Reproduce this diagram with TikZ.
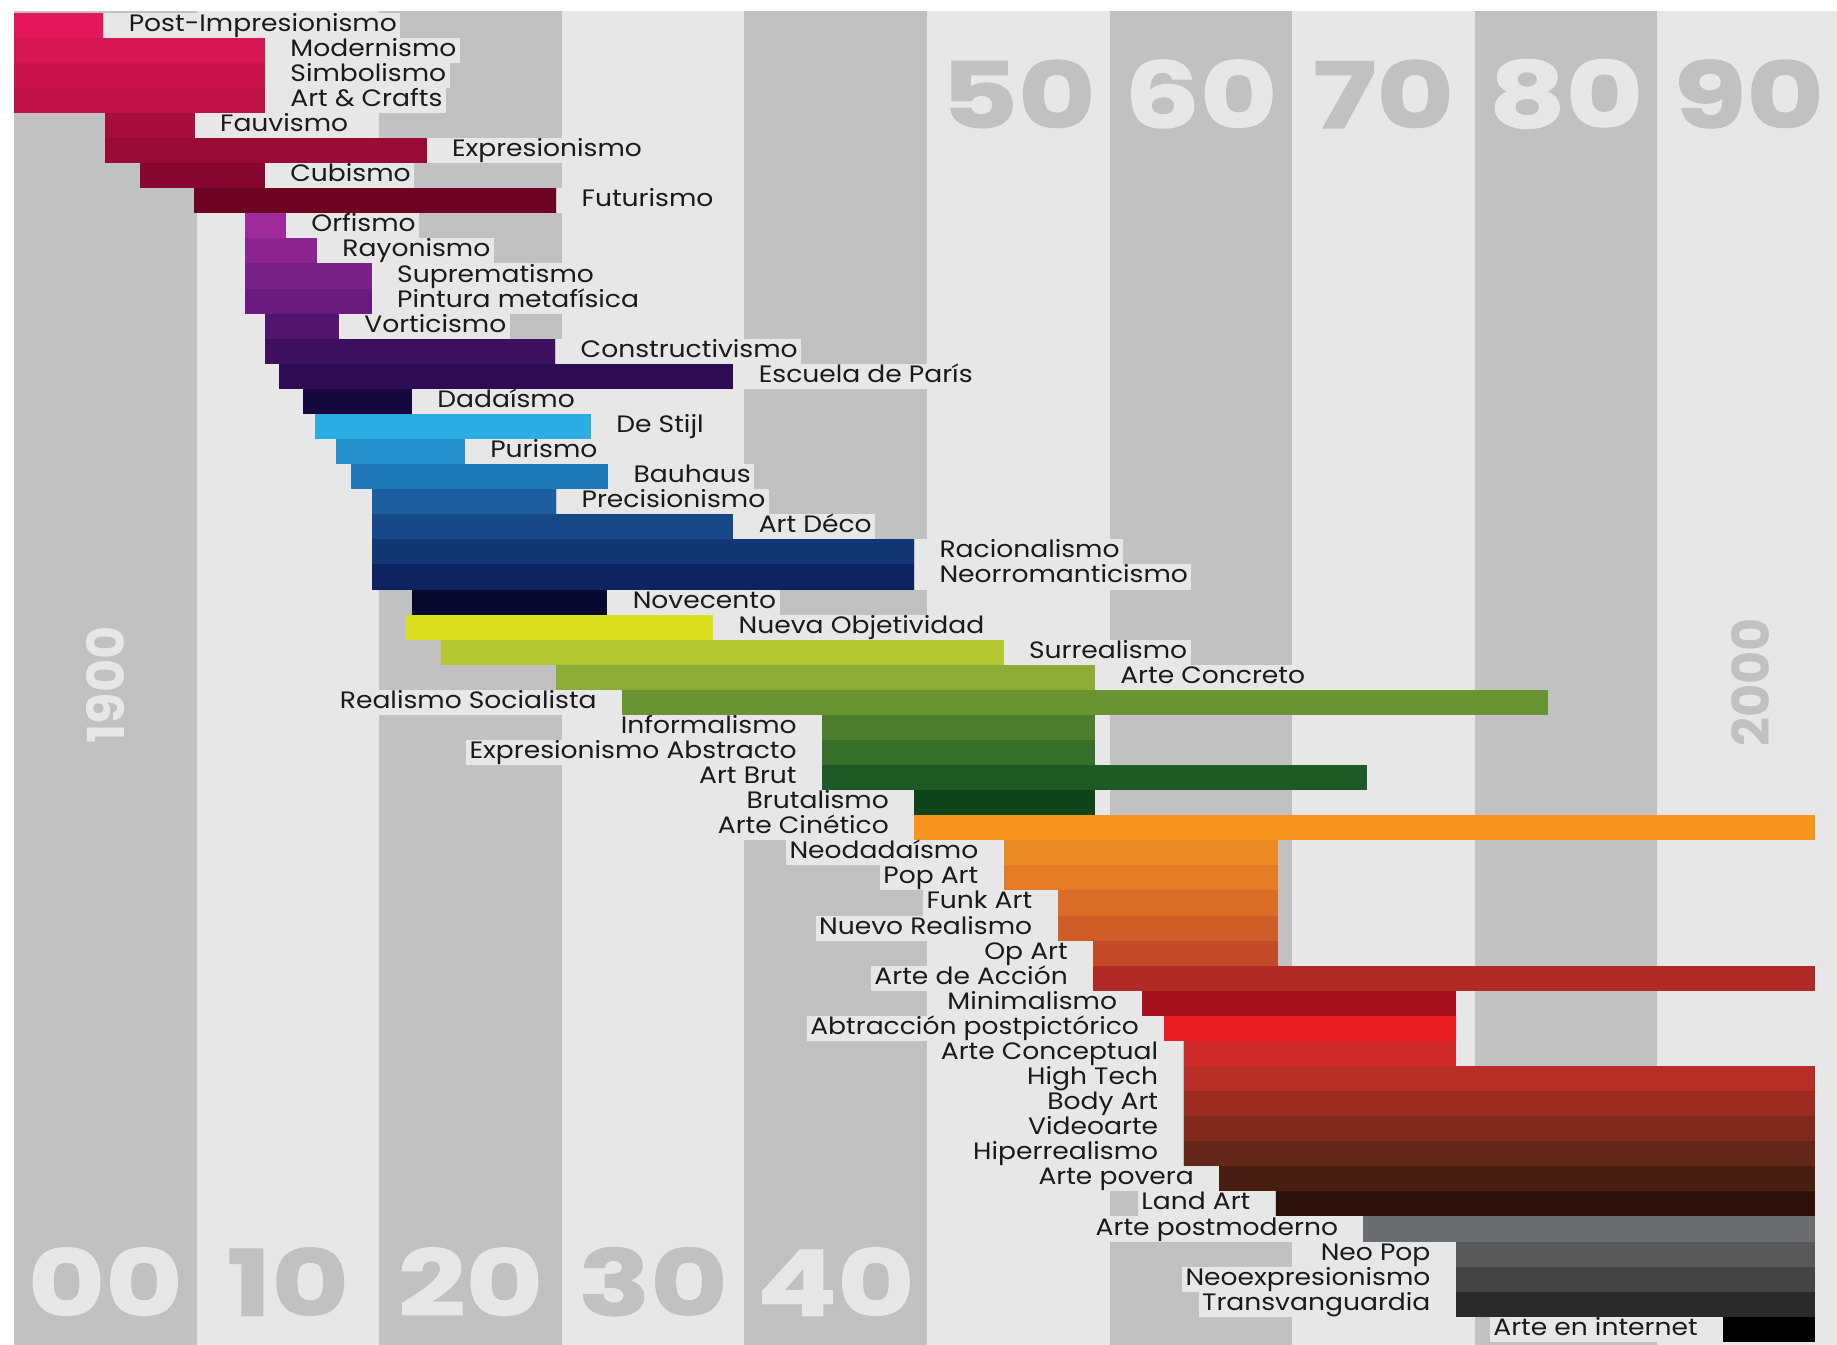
\documentclass[tikz,border=0pt]{standalone}
\usepackage{fontspec}
\setmainfont{Poppins}
\newfontfamily\lblfamily{Poppins}[FakeStretch=1.12]
\newfontfamily\decfamily{Poppins}[FakeStretch=1.3, BoldFeatures={FakeBold=1.2}]

% stripes
\definecolor{stripedark}{HTML}{C1C1C3}
\definecolor{stripelight}{HTML}{E7E7E7}
\definecolor{labeltext}{HTML}{1A1A1A}
% movements
\definecolor{postimp}{HTML}{E3175A}
\definecolor{modernismo}{HTML}{D71552}
\definecolor{simbolismo}{HTML}{CB134D}
\definecolor{artcrafts}{HTML}{BF1247}
\definecolor{fauvismo}{HTML}{A80D3D}
\definecolor{expresionismo}{HTML}{990A36}
\definecolor{cubismo}{HTML}{880730}
\definecolor{futurismo}{HTML}{6D0424}
\definecolor{orfismo}{HTML}{9E2A9C}
\definecolor{rayonismo}{HTML}{8C2592}
\definecolor{suprematismo}{HTML}{7A2089}
\definecolor{metafisica}{HTML}{6A1B80}
\definecolor{vorticismo}{HTML}{52166E}
\definecolor{constructivismo}{HTML}{3E1160}
\definecolor{escuelaparis}{HTML}{2C0C52}
\definecolor{dadaismo}{HTML}{160740}
\definecolor{destijl}{HTML}{2AADE3}
\definecolor{purismo}{HTML}{2391CC}
\definecolor{bauhaus}{HTML}{1F78B7}
\definecolor{precisionismo}{HTML}{1B5F9F}
\definecolor{artdeco}{HTML}{174889}
\definecolor{racionalismo}{HTML}{133775}
\definecolor{neorromanticismo}{HTML}{0D2461}
\definecolor{novecento}{HTML}{07082E}
\definecolor{nuevaobj}{HTML}{DADF1E}
\definecolor{surrealismo}{HTML}{B4C62F}
\definecolor{arteconcreto}{HTML}{8CAC35}
\definecolor{realismosoc}{HTML}{6A9431}
\definecolor{informalismo}{HTML}{4C7E2D}
\definecolor{expabstracto}{HTML}{366F2A}
\definecolor{artbrut}{HTML}{1E5A25}
\definecolor{brutalismo}{HTML}{0D4418}
\definecolor{cinetico}{HTML}{F7941D}
\definecolor{neodada}{HTML}{EE8A23}
\definecolor{popart}{HTML}{E47C25}
\definecolor{funkart}{HTML}{DA6D26}
\definecolor{nuevorealismo}{HTML}{CF5D27}
\definecolor{opart}{HTML}{C44B27}
\definecolor{arteaccion}{HTML}{B12A25}
\definecolor{minimalismo}{HTML}{A70F1D}
\definecolor{postpictorico}{HTML}{EC1C24}
\definecolor{conceptual}{HTML}{CF2A2A}
\definecolor{hightech}{HTML}{B82E26}
\definecolor{bodyart}{HTML}{9C2C20}
\definecolor{videoarte}{HTML}{80291C}
\definecolor{hiperrealismo}{HTML}{632617}
\definecolor{artepovera}{HTML}{481D12}
\definecolor{landart}{HTML}{2D110A}
\definecolor{postmoderno}{HTML}{6B6E70}
\definecolor{neopop}{HTML}{59595B}
\definecolor{neoexp}{HTML}{444446}
\definecolor{transvang}{HTML}{2A2A2B}
\definecolor{arteinternet}{HTML}{000000}

\newcommand\lblfont{\lblfamily\fontsize{13.5}{14}\selectfont}
\newcommand\decfont{\decfamily\fontsize{52}{52}\selectfont\bfseries}

\begin{document}
\begin{tikzpicture}[x=0.3652cm, y=-0.5016cm,
    lbl/.style={fill=stripelight, text=labeltext, inner xsep=0pt, inner ysep=0pt,
        minimum height=0.5016cm, text height=0.32cm, text depth=0.08cm, font=\lblfont},
    lblr/.style={lbl, anchor=west, execute at begin node=\hspace*{0.5cm},
        execute at end node=\hspace*{2pt}},
    lbll/.style={lbl, anchor=east, execute at begin node=\hspace*{2pt},
        execute at end node=\hspace*{0.5cm}},
    decade/.style={font=\decfont, inner sep=0pt},
    century/.style={font=\fontsize{29}{29}\selectfont\bfseries, rotate=90, inner sep=0pt}
]

\useasboundingbox (-0.767,-0.506) rectangle (99.84,53.12);
\fill[white] (-0.767,-0.506) rectangle (99.84,53.12);

% Decade stripes
\fill[stripelight] (0,-0.07) rectangle (99.84,53.12);
\foreach \d in {0,20,40,60,80}
    \fill[stripedark] (\d,-0.07) rectangle (\d+10,53.12);

% Decade numbers
\node[decade, stripedark] (d50) at (55,3.24) {50};
\node[decade, stripelight] (d60) at (65,3.24) {60};
\node[decade, stripedark] (d70) at (75,3.24) {70};
\node[decade, stripelight] (d80) at (85,3.24) {80};
\node[decade, stripedark] (d90) at (95,3.24) {90};
\node[decade, stripelight] (d00) at (5,50.6) {00};
\node[decade, stripedark] (d10) at (15,50.6) {10};
\node[decade, stripelight] (d20) at (25,50.6) {20};
\node[decade, stripedark] (d30) at (35,50.6) {30};
\node[decade, stripelight] (d40) at (45,50.6) {40};
\node[century, stripelight] (y1900) at (5,26.8) {1900};
\node[century, stripedark] (y2000) at (95.1,26.7) {2000};

% Reds
\fill[postimp] (0,0) rectangle (4.9,1);
\node[lblr] (postimp) at (4.9,0.5) {Post-Impresionismo};
\fill[modernismo] (0,1) rectangle (13.75,2);
\node[lblr] (modernismo) at (13.75,1.5) {Modernismo};
\fill[simbolismo] (0,2) rectangle (13.75,3);
\node[lblr] (simbolismo) at (13.75,2.5) {Simbolismo};
\fill[artcrafts] (0,3) rectangle (13.75,4);
\node[lblr] (artcrafts) at (13.75,3.5) {Art \& Crafts};
\fill[fauvismo] (5,4) rectangle (9.9,5);
\node[lblr] (fauvismo) at (9.9,4.5) {Fauvismo};
\fill[expresionismo] (5,5) rectangle (22.6,6);
\node[lblr] (expresionismo) at (22.6,5.5) {Expresionismo};
\fill[cubismo] (6.9,6) rectangle (13.75,7);
\node[lblr] (cubismo) at (13.75,6.5) {Cubismo};
\fill[futurismo] (9.85,7) rectangle (29.7,8);
\node[lblr] (futurismo) at (29.7,7.5) {Futurismo};

% Purples
\fill[orfismo] (12.65,8) rectangle (14.9,9);
\node[lblr] (orfismo) at (14.9,8.5) {Orfismo};
\fill[rayonismo] (12.65,9) rectangle (16.6,10);
\node[lblr] (rayonismo) at (16.6,9.5) {Rayonismo};
\fill[suprematismo] (12.65,10) rectangle (19.6,11);
\node[lblr] (suprematismo) at (19.6,10.5) {Suprematismo};
\fill[metafisica] (12.65,11) rectangle (19.6,12);
\node[lblr] (metafisica) at (19.6,11.5) {Pintura metafísica};
\fill[vorticismo] (13.75,12) rectangle (17.8,13);
\node[lblr] (vorticismo) at (17.8,12.5) {Vorticismo};
\fill[constructivismo] (13.75,13) rectangle (29.65,14);
\node[lblr] (constructivismo) at (29.65,13.5) {Constructivismo};
\fill[escuelaparis] (14.5,14) rectangle (39.4,15);
\node[lblr] (escuelaparis) at (39.4,14.5) {Escuela de París};
\fill[dadaismo] (15.85,15) rectangle (21.8,16);
\node[lblr] (dadaismo) at (21.8,15.5) {Dadaísmo};

% Blues
\fill[destijl] (16.5,16) rectangle (31.6,17);
\node[lblr] (destijl) at (31.6,16.5) {De Stijl};
\fill[purismo] (17.65,17) rectangle (24.7,18);
\node[lblr] (purismo) at (24.7,17.5) {Purismo};
\fill[bauhaus] (18.45,18) rectangle (32.55,19);
\node[lblr] (bauhaus) at (32.55,18.5) {Bauhaus};
\fill[precisionismo] (19.6,19) rectangle (29.7,20);
\node[lblr] (precisionismo) at (29.7,19.5) {Precisionismo};
\fill[artdeco] (19.6,20) rectangle (39.4,21);
\node[lblr] (artdeco) at (39.4,20.5) {Art Déco};
\fill[racionalismo] (19.6,21) rectangle (49.3,22);
\node[lblr] (racionalismo) at (49.3,21.5) {Racionalismo};
\fill[neorromanticismo] (19.6,22) rectangle (49.3,23);
\node[lblr] (neorromanticismo) at (49.3,22.5) {Neorromanticismo};
\fill[novecento] (21.8,23) rectangle (32.5,24);
\node[lblr] (novecento) at (32.5,23.5) {Novecento};

% Greens
\fill[nuevaobj] (21.45,24) rectangle (38.3,25);
\node[lblr] (nuevaobj) at (38.3,24.5) {Nueva Objetividad};
\fill[surrealismo] (23.4,25) rectangle (54.2,26);
\node[lblr] (surrealismo) at (54.2,25.5) {Surrealismo};
\fill[arteconcreto] (29.7,26) rectangle (59.2,27);
\node[lblr] (arteconcreto) at (59.2,26.5) {Arte Concreto};
\fill[realismosoc] (33.3,27) rectangle (84,28);
\node[lbll] (realismosoc) at (33.3,27.5) {Realismo Socialista};
\fill[informalismo] (44.25,28) rectangle (59.2,29);
\node[lbll] (informalismo) at (44.25,28.5) {Informalismo};
\fill[expabstracto] (44.25,29) rectangle (59.2,30);
\node[lbll] (expabstracto) at (44.25,29.5) {Expresionismo Abstracto};
\fill[artbrut] (44.25,30) rectangle (74.1,31);
\node[lbll] (artbrut) at (44.25,30.5) {Art Brut};
\fill[brutalismo] (49.3,31) rectangle (59.2,32);
\node[lbll] (brutalismo) at (49.3,31.5) {Brutalismo};

% Oranges
\fill[cinetico] (49.3,32) rectangle (98.65,33);
\node[lbll] (cinetico) at (49.3,32.5) {Arte Cinético};
\fill[neodada] (54.2,33) rectangle (69.2,34);
\node[lbll] (neodada) at (54.2,33.5) {Neodadaísmo};
\fill[popart] (54.2,34) rectangle (69.2,35);
\node[lbll] (popart) at (54.2,34.5) {Pop Art};
\fill[funkart] (57.15,35) rectangle (69.2,36);
\node[lbll] (funkart) at (57.15,35.5) {Funk Art};
\fill[nuevorealismo] (57.15,36) rectangle (69.2,37);
\node[lbll] (nuevorealismo) at (57.15,36.5) {Nuevo Realismo};
\fill[opart] (59.1,37) rectangle (69.2,38);
\node[lbll] (opart) at (59.1,37.5) {Op Art};
\fill[arteaccion] (59.1,38) rectangle (98.65,39);
\node[lbll] (arteaccion) at (59.1,38.5) {Arte de Acción};

% Deep reds and browns
\fill[minimalismo] (61.8,39) rectangle (79,40);
\node[lbll] (minimalismo) at (61.8,39.5) {Minimalismo};
\fill[postpictorico] (63,40) rectangle (79,41);
\node[lbll] (postpictorico) at (63,40.5) {Abtracción postpictórico};
\fill[conceptual] (64.05,41) rectangle (79,42);
\node[lbll] (conceptual) at (64.05,41.5) {Arte Conceptual};
\fill[hightech] (64.05,42) rectangle (98.65,43);
\node[lbll] (hightech) at (64.05,42.5) {High Tech};
\fill[bodyart] (64.05,43) rectangle (98.65,44);
\node[lbll] (bodyart) at (64.05,43.5) {Body Art};
\fill[videoarte] (64.05,44) rectangle (98.65,45);
\node[lbll] (videoarte) at (64.05,44.5) {Videoarte};
\fill[hiperrealismo] (64.05,45) rectangle (98.65,46);
\node[lbll] (hiperrealismo) at (64.05,45.5) {Hiperrealismo};
\fill[artepovera] (66,46) rectangle (98.65,47);
\node[lbll] (artepovera) at (66,46.5) {Arte povera};
\fill[landart] (69.1,47) rectangle (98.65,48);
\node[lbll] (landart) at (69.1,47.5) {Land Art};

% Greys
\fill[postmoderno] (73.9,48) rectangle (98.65,49);
\node[lbll] (postmoderno) at (73.9,48.5) {Arte postmoderno};
\fill[neopop] (78.96,49) rectangle (98.65,50);
\node[lbll] (neopop) at (78.96,49.5) {Neo Pop};
\fill[neoexp] (78.96,50) rectangle (98.65,51);
\node[lbll] (neoexp) at (78.96,50.5) {Neoexpresionismo};
\fill[transvang] (78.96,51) rectangle (98.65,52);
\node[lbll] (transvang) at (78.96,51.5) {Transvanguardia};
\fill[arteinternet] (93.6,52) rectangle (98.65,53);
\node[lbll] (arteinternet) at (93.6,52.5) {Arte en internet};

\end{tikzpicture}
\end{document}
